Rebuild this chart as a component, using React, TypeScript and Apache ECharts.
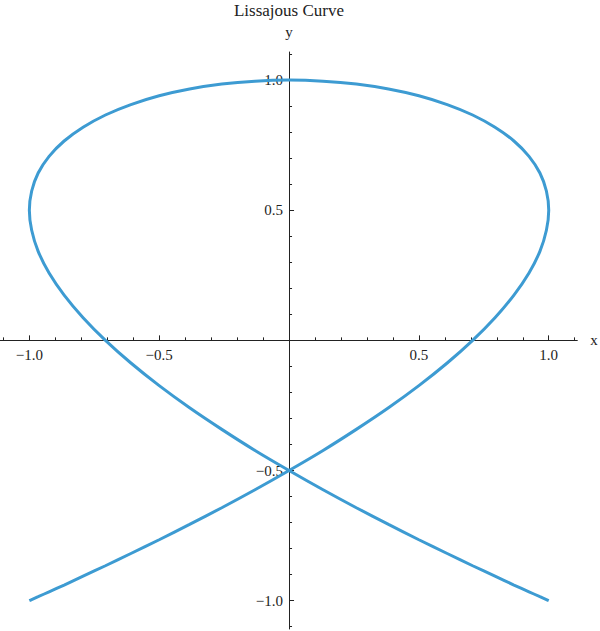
import { useEffect, useRef } from 'react';
import * as echarts from 'echarts';

const xValues = [
  1, 0.991, 0.966, 0.924, 0.866, 0.793, 0.707, 0.609, 0.5, 0.383, 0.259, 0.131,
  0, -0.131, -0.259, -0.383, -0.5, -0.609, -0.707, -0.793, -0.866, -0.924, -0.966, -0.991,
  -1, -0.991, -0.966, -0.924, -0.866, -0.793, -0.707, -0.609, -0.5, -0.383, -0.259, -0.131,
  0,
  0.131, 0.259, 0.383, 0.5, 0.609, 0.707, 0.793, 0.866, 0.924, 0.966, 0.991,
  1, 0.991, 0.966, 0.924, 0.866, 0.793, 0.707, 0.609, 0.5, 0.383, 0.259, 0.131,
  0, -0.131, -0.259, -0.383, -0.5, -0.609, -0.707, -0.793, -0.866, -0.924, -0.966, -0.991,
  -1,
];
const yValues = [
  -1, -0.996, -0.985, -0.966, -0.94, -0.906, -0.866, -0.819, -0.766, -0.707, -0.643, -0.574,
  -0.5, -0.423, -0.342, -0.259, -0.174, -0.087, 0, 0.087, 0.174, 0.259, 0.342, 0.423,
  0.5, 0.574, 0.643, 0.707, 0.766, 0.819, 0.866, 0.906, 0.94, 0.966, 0.985, 0.996,
  1,
  0.996, 0.985, 0.966, 0.94, 0.906, 0.866, 0.819, 0.766, 0.707, 0.643, 0.574,
  0.5, 0.423, 0.342, 0.259, 0.174, 0.087, 0, -0.087, -0.174, -0.259, -0.342, -0.423,
  -0.5, -0.574, -0.643, -0.707, -0.766, -0.819, -0.866, -0.906, -0.94, -0.966, -0.985, -0.996,
  -1,
];

const majorTicks = [-1, -0.5, 0.5, 1];
const minorTicks = [
  -1.1, -0.9, -0.8, -0.7, -0.6, -0.4, -0.3, -0.2, -0.1,
  0.1, 0.2, 0.3, 0.4, 0.6, 0.7, 0.8, 0.9, 1.1,
];

const X_MIN = -1.113;
const X_MAX = 1.11;
const Y_MIN = -1.109;
const Y_MAX = 1.108;

const FONT = 'Liberation Serif';
const AXIS_COLOR = '#222';

// plot box in pixels
const LEFT = 0;
const RIGHT = 22.7;
const TOP = 52;
const BOTTOM = 2;
const W = 600 - LEFT - RIGHT;
const H = 631 - TOP - BOTTOM;
const zeroX = LEFT + (W * -X_MIN) / (X_MAX - X_MIN);
const zeroY = TOP + (H * Y_MAX) / (Y_MAX - Y_MIN);

const fmt = (v: number) => (v < 0 ? '\u2212' + Math.abs(v).toFixed(1) : v.toFixed(1));

export default function App() {
  const chartRef = useRef<HTMLDivElement | null>(null);

  useEffect(() => {
    if (!chartRef.current) return;
    const chart = echarts.init(chartRef.current, null, { renderer: 'svg' });

    const hidden = (dim: 'x' | 'y', gridIndex: number) => ({
      type: 'value' as const,
      gridIndex,
      show: false,
      min: dim === 'x' ? X_MIN : Y_MIN,
      max: dim === 'x' ? X_MAX : Y_MAX,
      splitLine: { show: false },
    });

    const majorAxis = (dim: 'x' | 'y', gridIndex: number) => ({
      type: 'value' as const,
      gridIndex,
      min: dim === 'x' ? X_MIN : Y_MIN,
      max: dim === 'x' ? X_MAX : Y_MAX,
      position: dim === 'x' ? ('bottom' as const) : ('left' as const),
      name: dim,
      nameLocation: 'end' as const,
      nameGap: dim === 'x' ? 13 : 13,
      nameTextStyle: { fontFamily: FONT, fontSize: 15, color: AXIS_COLOR },
      axisLine: { show: true, onZero: false, lineStyle: { color: AXIS_COLOR, width: 1 } },
      axisTick: { show: true, inside: true, length: 5, customValues: majorTicks, lineStyle: { color: AXIS_COLOR } },
      axisLabel: {
        show: true,
        customValues: majorTicks,
        margin: dim === 'x' ? 7 : 6,
        fontFamily: FONT,
        fontSize: 15,
        color: AXIS_COLOR,
        formatter: fmt,
      },
      splitLine: { show: false },
    });

    const minorAxis = (dim: 'x' | 'y', gridIndex: number) => ({
      type: 'value' as const,
      gridIndex,
      min: dim === 'x' ? X_MIN : Y_MIN,
      max: dim === 'x' ? X_MAX : Y_MAX,
      position: dim === 'x' ? ('bottom' as const) : ('left' as const),
      axisLine: { show: false, onZero: false },
      axisTick: { show: true, inside: true, length: 3, customValues: minorTicks, lineStyle: { color: AXIS_COLOR } },
      axisLabel: { show: false },
      splitLine: { show: false },
    });

    chart.setOption({
      animation: false,
      title: {
        text: 'Lissajous Curve',
        left: 289,
        top: 2,
        padding: 0,
        textAlign: 'center',
        textStyle: { fontFamily: FONT, fontSize: 17, fontWeight: 'normal', color: AXIS_COLOR },
      },
      grid: [
        // plot area
        { left: LEFT, right: RIGHT, top: TOP, bottom: BOTTOM, outerBoundsMode: 'none', containLabel: false },
        // x axis sits on the bottom edge of this one, at y = 0
        { left: LEFT, right: RIGHT, top: TOP, bottom: 631 - zeroY, outerBoundsMode: 'none', containLabel: false },
        // y axis sits on the left edge of this one, at x = 0
        { left: zeroX, right: RIGHT, top: TOP, bottom: BOTTOM, outerBoundsMode: 'none', containLabel: false },
      ],
      xAxis: [hidden('x', 0), majorAxis('x', 1), minorAxis('x', 1), hidden('x', 2)],
      yAxis: [hidden('y', 0), hidden('y', 1), majorAxis('y', 2), minorAxis('y', 2)],
      series: [
        {
          type: 'line',
          xAxisIndex: 0,
          yAxisIndex: 0,
          data: xValues.map((x, i) => [x, yValues[i]]),
          showSymbol: false,
          smooth: 0.3,
          lineStyle: { color: '#3d9bd2', width: 3 },
        },
      ],
    });

    return () => {
      chart.dispose();
    };
  }, []);

  return (
    <div
      ref={chartRef}
      style={{ position: 'fixed', left: 0, top: 0, width: 600, height: 631, background: '#fff' }}
    />
  );
}
